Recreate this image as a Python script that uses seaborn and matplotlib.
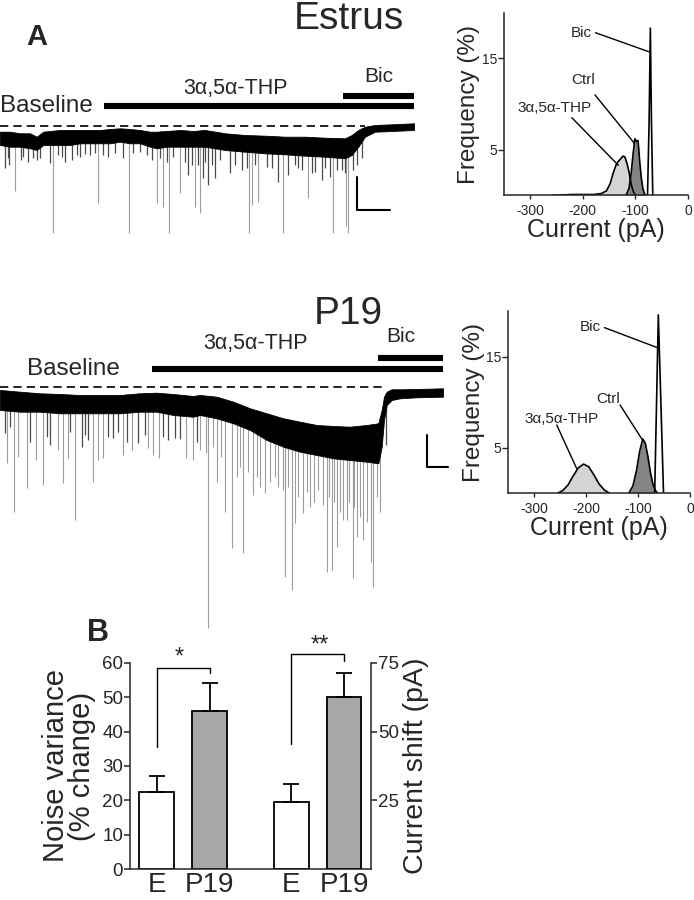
import numpy as np
import pandas as pd
import matplotlib
matplotlib.use("Agg")
import matplotlib.pyplot as plt
import seaborn as sns

# ---------------- data ----------------
# traces: time (arbitrary, ~px) and depth below holding level (arbitrary, ~px)
estrus_t = [0, 10, 20, 30, 36.7, 43.3, 60, 70, 80, 90, 100, 110, 120, 130, 140, 150, 156.7,
            166.7, 180, 193.3, 205, 225, 245, 265, 285, 305, 325, 345, 351.7, 358.3, 365,
            375, 391.7, 414]
estrus_top = [6.2, 6.2, 7.8, 7.8, 11.2, 6.2, 4.5, 4.5, 4.5, 4.5, 4.5, 3.5, 2.8, 3.5, 4.5, 6.2,
              6.2, 5.5, 4.5, 5.5, 4.5, 7.8, 9.5, 10.2, 11.2, 11.2, 12.2, 12.8, 9.5, 4.5, 1.2,
              -0.5, -1.2, -2.2]
estrus_bot = [19.5, 21.2, 21.2, 22.8, 24.5, 19.5, 19.5, 19.5, 17.8, 17.8, 17.8, 17.8, 16.2,
              17.8, 17.8, 21.2, 22.8, 21.2, 21.2, 21.2, 21.2, 24.5, 26.2, 27.8, 28.8, 30.2,
              31.2, 32.8, 29.5, 21.2, 11.2, 6.2, 5.5, 4.5]
estrus_spike_t = [5, 9.3, 15, 20.7, 28.3, 36.7, 50, 53.3, 65, 71.7, 80, 90, 98.3, 108.3, 123.3,
                  129.3, 140, 156.7, 163.3, 166.7, 169.3, 180, 188.3, 195, 200, 203.3, 208.3,
                  215, 230, 241.7, 249.3, 251.7, 258.3, 266.7, 277.7, 283.3, 288.3, 298.3,
                  308.3, 315, 321.7, 330, 333.3, 341.7, 346, 348.3, 361.7,
                  8.3, 23.3, 33.3, 40, 58.3, 61.7, 76.7, 85, 95, 103.3, 115, 133.3, 146.7,
                  151.7, 160, 173.3, 185, 191.7, 198.3, 205, 211.7, 220, 235, 246.7, 255,
                  271.7, 295, 301.7, 311.7, 325, 336.7, 345, 353.3, 356.7]
estrus_spike_d = [42.8, 39.5, 65.5, 34.5, 36.2, 34.5, 37.8, 107.8, 36.2, 34.5, 31.2, 29.5, 77.8,
                  31.2, 32.8, 107.8, 26.2, 77.8, 81.2, 36.2, 107.8, 67.8, 49.5, 81.2, 87.8,
                  52.8, 59.5, 52.8, 47.8, 44.5, 107.8, 79.5, 76.2, 41.2, 56.2, 107.8, 49.5,
                  42.8, 72.8, 46.2, 54.5, 51.2, 107.8, 44.5, 100, 107.8, 32.8,
                  32.8, 31.2, 32.8, 32.8, 29.5, 31.2, 29.5, 28.8, 27.8, 29.5, 27.8, 27.8,
                  29.5, 34.5, 32.8, 31.2, 36.2, 39.5, 39.5, 36.2, 39.5, 34.5, 39.5, 42.8,
                  39.5, 42.8, 39.5, 44.5, 47.8, 42.8, 44.5, 47.8, 44.5, 39.5]

p19_t = [0, 20, 40, 60, 80, 100, 120, 140, 156.7, 173.3, 193.3, 200, 216.7, 233.3, 250,
         266.7, 283.3, 300, 316.7, 333.3, 350, 366.7, 378.3, 381.7, 384, 386.7, 391.7, 400,
         416.7, 443]
p19_top = [3, 4.7, 6.3, 7, 8, 8, 8, 6.3, 5.7, 7, 9, 8, 9.7, 14.7, 21.3, 26.3, 31.3, 34.7, 38,
           39, 39.7, 38, 36.3, 23, 9.7, 4.7, 2.3, 2.3, 2, 1.3]
p19_bot = [23, 24.7, 24.7, 26.3, 26.3, 26.3, 26.3, 24.7, 24.7, 28, 29.7, 28, 31.3, 36.3, 43,
           53, 59.7, 64.7, 68, 71.3, 73, 74.7, 76.3, 59.7, 33, 18, 13, 11.3, 10.3, 9.7]
p19_spike_t = [5, 6.7, 14, 18.3, 26.7, 36, 43.3, 50, 58.3, 63.3, 68.3, 75, 81.7, 88.3, 92.7,
               98.3, 103.3, 113.3, 122.7, 131.7, 138.3, 148.3, 153.3, 159.3, 168.3, 175, 186,
               193.3, 200, 206, 208.3, 216.7, 225, 231.7, 236.7, 243.3, 253.3, 260, 265, 270,
               278.3, 283.3, 285, 291.7, 295, 298, 303.3, 310, 314, 318.3, 323, 326.7, 331.7,
               336.7, 340, 343.3, 346.7, 352.7, 356.7, 360, 363.3, 367, 370.7, 373.3, 380, 386,
               10, 30, 47, 70, 85, 108, 118, 127, 145, 163, 180, 197, 213, 221, 240, 248,
               257, 275, 288, 307, 329, 334, 349, 354, 377]
p19_spike_d = [46.3, 76.3, 124.7, 69.7, 101.3, 73, 98, 58, 63, 96.3, 71.3, 133, 59.7, 53, 94.7,
               73, 71.3, 51.3, 68, 63, 56.3, 61.3, 68, 71.3, 53, 51.3, 71.3, 73, 63, 66.3,
               241.3, 95, 124.7, 161.3, 90, 166.3, 108, 100, 106.3, 95, 99.7, 103, 189.7, 203,
               136.3, 110, 126.3, 119.7, 115, 103, 118, 184.7, 183, 159.7, 125, 133, 133,
               191.3, 149.7, 130, 153, 135, 174.7, 199.7, 124.7, 58,
               40, 55, 50, 45, 48, 50, 45, 55, 48, 50, 52, 55, 60, 70, 80, 85,
               90, 90, 100, 105, 110, 115, 115, 120, 110]

# amplitude histograms: current (pA) vs frequency (%)
est_thp_x = [-260, -240, -220, -200, -180, -165, -155, -148, -142, -137, -133, -128, -124,
             -120, -116, -112, -108, -104, -100]
est_thp_y = [0, 0.05, 0.1, 0.1, 0.1, 0.2, 0.5, 1.3, 2.5, 3.3, 3.7, 4.0, 4.3, 4.2, 3.5, 2.5,
             1.2, 0.4, 0]
est_ctrl_x = [-118, -112, -108, -104, -101, -98, -95, -92, -89, -86, -83, -80]
est_ctrl_y = [0, 0.8, 2.5, 4.8, 6.2, 5.9, 6.0, 3.8, 2.0, 0.8, 0.2, 0]
est_bic_x = [-77, -74, -71.6, -69.5, -67]
est_bic_y = [0, 8, 18.3, 8, 0]

p19_thp_x = [-255, -245, -235, -225, -215, -205, -195, -185, -175, -165, -155]
p19_thp_y = [0, 0.3, 0.9, 1.9, 2.8, 3.2, 2.9, 2.0, 1.0, 0.35, 0]
p19_ctrl_x = [-118, -110, -103, -97, -91, -86, -81, -76, -71, -66, -62]
p19_ctrl_y = [0, 0.8, 2.5, 4.6, 5.95, 5.5, 4.0, 2.2, 0.9, 0.25, 0]
p19_bic_x = [-68, -64.5, -61, -56, -51]
p19_bic_y = [0, 9.8, 19.6, 9.8, 0]

# panel B
groups = ["E", "P19"]
noise_mean = [22.4, 45.9]
noise_err = [4.6, 8.1]
shift_mean = [24.5, 62.6]
shift_err = [6.5, 8.5]

# ---------------- style ----------------
sns.set_style("ticks")
plt.rcParams["font.family"] = ["Liberation Sans", "DejaVu Sans"]
plt.rcParams["axes.linewidth"] = 1.1
plt.rcParams["axes.unicode_minus"] = False
NARROW = ["Liberation Sans Narrow", "Liberation Sans", "DejaVu Sans"]

W, H = 694, 900
fig = plt.figure(figsize=(W / 100, H / 100), dpi=100)


def px_rect(l, t, r, b):
    return [l / W, 1 - b / H, (r - l) / W, (b - t) / H]


def draw_trace(ax, t, top, bot, st, sd, dash_end):
    st = np.asarray(st)
    sd = np.asarray(sd)
    start = np.interp(st, t, top)  # events leave from the noise band
    short = sd < 60
    # long events light grey, short ones darker so the band edge looks ragged
    ax.vlines(st[~short], start[~short], sd[~short], color="#9c9c9c", lw=0.8, zorder=1)
    ax.vlines(st[short], start[short], sd[short], color="#4a4a4a", lw=0.9, zorder=1)
    ax.fill_between(t, top, bot, color="black", lw=0.6, zorder=2)
    ax.plot([0, dash_end], [0, 0], color="black", lw=1.2, ls=(0, (5, 3)), zorder=3)


# ---------------- Estrus trace ----------------
ax_t1 = fig.add_axes(px_rect(0, 60, 420, 240))
ax_t1.set_xlim(0, 420)
ax_t1.set_ylim(114.5, -65.5)
ax_t1.axis("off")
draw_trace(ax_t1, estrus_t, estrus_top, estrus_bot, estrus_spike_t, estrus_spike_d, 365)
ax_t1.plot([104.3, 414.3], [-19.5, -19.5], color="black", lw=4.4, solid_capstyle="butt")
ax_t1.plot([343.3, 414.3], [-29.8, -29.8], color="black", lw=4.4, solid_capstyle="butt")
ax_t1.text(0, -19.5, "Baseline", fontsize=17.5, ha="left", va="center")
ax_t1.text(235.8, -37.2, "3α,5α-THP", fontsize=15.5, ha="center", va="center")
ax_t1.text(378.3, -48.8, "Bic", fontsize=15, ha="center", va="center")
ax_t1.plot([356.7, 356.7, 390], [51.2, 84.5, 84.5], color="black", lw=1.5)

# ---------------- P19 trace ----------------
ax_t2 = fig.add_axes(px_rect(0, 330, 460, 640))
ax_t2.set_xlim(0, 460)
ax_t2.set_ylim(253, -57)
ax_t2.axis("off")
draw_trace(ax_t2, p19_t, p19_top, p19_bot, p19_spike_t, p19_spike_d, 382)
ax_t2.plot([151.7, 442.7], [-18, -18], color="black", lw=4.4, solid_capstyle="butt")
ax_t2.plot([378.3, 442.7], [-29.3, -29.3], color="black", lw=4.4, solid_capstyle="butt")
ax_t2.text(73.8, -17.7, "Baseline", fontsize=17.5, ha="center", va="center")
ax_t2.text(255.8, -43.7, "3α,5α-THP", fontsize=15.5, ha="center", va="center")
ax_t2.text(401, -50.3, "Bic", fontsize=15, ha="center", va="center")
ax_t2.plot([426.7, 426.7, 448.3], [48, 80.3, 80.3], color="black", lw=1.5)

# titles and panel letters
fig.text(37 / W, 1 - 37 / H, "A", fontsize=21, fontweight="bold", ha="center", va="center")
fig.text(98 / W, 1 - 633 / H, "B", fontsize=22, fontweight="bold", ha="center", va="center")
fig.text(348.5 / W, 1 - 19 / H, "Estrus", fontsize=28, ha="center", va="center")
fig.text(348.3 / W, 1 - 314 / H, "P19", fontsize=28, ha="center", va="center")


# ---------------- histograms ----------------
def draw_hist(ax, thp, ctrl, bic, notes):
    for (x, y), fc in [(thp, "#d4d4d4"), (ctrl, "#848484"), (bic, "white")]:
        ax.fill_between(x, 0, y, color=fc, lw=0)
        sns.lineplot(x=x, y=y, ax=ax, color="black", lw=1.2, estimator=None, sort=False)
    for label, txt_xy, start, end in notes:
        ax.text(*txt_xy, label, fontsize=11, ha="center", va="center")
        ax.annotate("", xy=end, xytext=start,
                    arrowprops=dict(arrowstyle="-", color="black", lw=1.0,
                                    shrinkA=0, shrinkB=0))
    ax.set_xlim(-350, 0)
    ax.set_ylim(0, 20)
    ax.set_xticks([-300, -200, -100, 0])
    ax.set_yticks([5, 15])
    ax.tick_params(axis="x", length=3, width=1, labelsize=10, pad=3)
    ax.tick_params(axis="y", length=4, width=1, labelsize=10, pad=1)
    ax.set_xlabel("Current (pA)", fontsize=18, labelpad=0)
    ax.set_ylabel("Frequency (%)", fontsize=17.5, labelpad=1)
    ax.patch.set_alpha(0)
    sns.despine(ax=ax)


ax_h1 = fig.add_axes(px_rect(504, 12.6, 688, 195.4))
draw_hist(ax_h1, (est_thp_x, est_thp_y), (est_ctrl_x, est_ctrl_y), (est_bic_x, est_bic_y),
          [("Bic", (-202, 17.8), (-176, 17.8), (-73.6, 15.7)),
           ("Ctrl", (-199.7, 12.6), (-177, 11.0), (-102, 5.7)),
           ("3α,5α-THP", (-253, 9.6), (-221, 8.5), (-132.6, 3.3))])

ax_h2 = fig.add_axes(px_rect(508.3, 311.2, 690, 493.2))
draw_hist(ax_h2, (p19_thp_x, p19_thp_y), (p19_ctrl_x, p19_ctrl_y), (p19_bic_x, p19_bic_y),
          [("Bic", (-192.6, 18.3), (-165, 18.2), (-63, 16.0)),
           ("Ctrl", (-158.5, 10.4), (-134.8, 9.7), (-91, 5.8)),
           ("3α,5α-THP", (-247, 8.2), (-256.7, 7.5), (-218.2, 2.7))])

# ---------------- panel B bars ----------------
pos_noise = [0.0, 1.0]
pos_shift = [2.55, 3.55]
bar_w = 0.653
colors = ["white", "#a7a7a7"]

ax_b = fig.add_axes(px_rect(130, 662.7, 371, 869.3))
ax_r = ax_b.twinx()

df_noise = pd.DataFrame({"pos": pos_noise, "val": noise_mean, "grp": groups})
df_shift = pd.DataFrame({"pos": pos_shift, "val": shift_mean, "grp": groups})
sns.barplot(data=df_noise, x="pos", y="val", hue="grp", palette=colors, native_scale=True,
            dodge=False, width=bar_w, edgecolor="black", linewidth=1.3, errorbar=None,
            legend=False, ax=ax_b)
sns.barplot(data=df_shift, x="pos", y="val", hue="grp", palette=colors, native_scale=True,
            dodge=False, width=bar_w, edgecolor="black", linewidth=1.3, errorbar=None,
            legend=False, ax=ax_r)
ax_b.errorbar(pos_noise, noise_mean, yerr=[[0, 0], noise_err], fmt="none", ecolor="black",
              elinewidth=1.3, capsize=6, capthick=1.3, zorder=1)
ax_r.errorbar(pos_shift, shift_mean, yerr=[[0, 0], shift_err], fmt="none", ecolor="black",
              elinewidth=1.3, capsize=6, capthick=1.3, zorder=1)

for a in (ax_b, ax_r):
    a.set_xlim(-0.506, 4.059)
ax_b.set_ylim(0, 60)
ax_r.set_ylim(0, 75)
ax_b.set_yticks(range(0, 61, 10))
ax_r.set_yticks([25, 50, 75])
ax_b.set_xticks(pos_noise + pos_shift)
ax_b.set_xticklabels(groups + groups)
for lab in ax_b.get_xticklabels():
    lab.set_family(NARROW)
    lab.set_fontsize(20)
ax_b.tick_params(axis="x", length=0, pad=2)
ax_b.tick_params(axis="y", length=4, width=1.1, pad=1)
ax_r.tick_params(axis="y", length=4, width=1.1, pad=1)
for lab in ax_b.get_yticklabels() + ax_r.get_yticklabels():
    lab.set_family(NARROW)
    lab.set_fontsize(13.5)
ax_b.set_xlabel("")
ax_r.set_xlabel("")
ax_b.set_ylabel("Noise variance\n(% change)", fontsize=21, linespacing=0.95, labelpad=4)
ax_r.set_ylabel("Current shift (pA)", fontsize=20.5, labelpad=3)
ax_b.spines["top"].set_visible(False)
ax_b.spines["right"].set_visible(False)
ax_r.spines["top"].set_visible(False)
ax_r.spines["left"].set_visible(False)
ax_r.spines["bottom"].set_visible(False)
ax_b.patch.set_alpha(0)

# significance brackets
ax_b.plot([0, 0, 1, 1], [35.6, 58.4, 58.4, 56.9], color="black", lw=1.0, clip_on=False)
ax_b.text(0.42, 61.4, "*", fontsize=17, ha="center", va="center")
ax_b.plot([2.55, 2.55, 3.55, 3.55], [36.3, 62.5, 62.5, 60.6], color="black", lw=1.0,
          clip_on=False)
ax_b.text(3.08, 65.1, "**", fontsize=17, ha="center", va="center")

fig.savefig("out.png", dpi=100)
